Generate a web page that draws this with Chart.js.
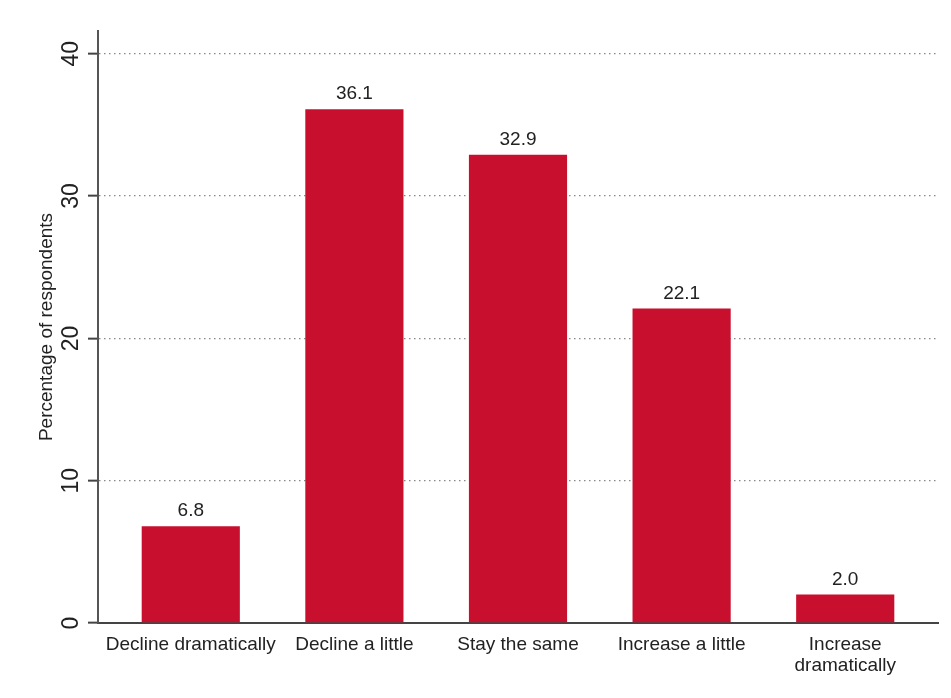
<!DOCTYPE html>
<html>
<head>
<meta charset="utf-8">
<script src="https://cdn.jsdelivr.net/npm/chart.js@4/dist/chart.umd.min.js"></script>
<style>
  html, body { margin: 0; padding: 0; background: #fff; }
  #wrap { width: 951px; height: 698px; }
</style>
</head>
<body>
<div id="wrap"><canvas id="chart" width="951" height="698"></canvas></div>
<script>
// chart data
const categories = ['Decline dramatically', 'Decline a little', 'Stay the same', 'Increase a little', 'Increase dramatically'];
const tickLabels = ['Decline dramatically', 'Decline a little', 'Stay the same', 'Increase a little', ['Increase', 'dramatically']];
const percentages = [6.8, 36.1, 32.9, 22.1, 2.0];
const yTicks = [0, 10, 20, 30, 40];

const FONT = '"Liberation Sans", Arial, Helvetica, sans-serif';
const BAR_RED = '#c8102e';

// value labels above each bar
const barValueLabels = {
    id: 'barValueLabels',
    afterDatasetsDraw(chart) {
        const ctx = chart.ctx;
        const meta = chart.getDatasetMeta(0);
        ctx.save();
        ctx.font = '19px ' + FONT;
        ctx.fillStyle = '#222';
        ctx.textAlign = 'center';
        ctx.textBaseline = 'alphabetic';
        meta.data.forEach((bar, i) => {
            ctx.fillText(percentages[i].toFixed(1), bar.x, bar.y - 10);
        });
        ctx.restore();
    }
};

new Chart(document.getElementById('chart'), {
    type: 'bar',
    data: {
        datasets: [{
            data: categories.map((c, i) => ({ x: i, y: percentages[i] })),
            backgroundColor: BAR_RED,
            borderWidth: 0,
            categoryPercentage: 1,
            barPercentage: 0.6
        }]
    },
    options: {
        responsive: false,
        animation: false,
        devicePixelRatio: 1,
        layout: { padding: { top: 31, right: 13, left: 0, bottom: 0 } },
        plugins: {
            legend: { display: false },
            tooltip: { enabled: false }
        },
        scales: {
            x: {
                type: 'linear',
                offset: false,
                min: -0.567,
                max: 4.567,
                afterBuildTicks: s => { s.ticks = categories.map((c, i) => ({ value: i })); },
                afterFit: s => { s.height = 75; },
                grid: { display: false },
                border: { display: true, color: '#444', width: 2 },
                ticks: {
                    autoSkip: false,
                    maxRotation: 0,
                    padding: 4,
                    color: '#222',
                    font: { family: FONT, size: 19, lineHeight: 1.08 },
                    callback: v => tickLabels[v]
                }
            },
            y: {
                min: 0,
                max: 41.6,
                afterBuildTicks: s => { s.ticks = yTicks.map(v => ({ value: v })); },
                afterFit: s => { s.width = 98; },
                grid: {
                    color: '#888',
                    lineWidth: 1.3,
                    tickLength: 10,
                    tickColor: '#444',
                    tickWidth: 2
                },
                border: { display: true, color: '#555', width: 2, dash: [1.5, 3.5] },
                ticks: {
                    minRotation: 90,
                    maxRotation: 90,
                    crossAlign: 'center',
                    padding: 4,
                    color: '#222',
                    font: { family: FONT, size: 23 }
                },
                title: {
                    display: true,
                    text: 'Percentage of respondents',
                    color: '#222',
                    font: { family: FONT, size: 19 },
                    padding: { top: 35, bottom: 0 }
                }
            }
        }
    },
    plugins: [barValueLabels]
});
</script>
</body>
</html>
